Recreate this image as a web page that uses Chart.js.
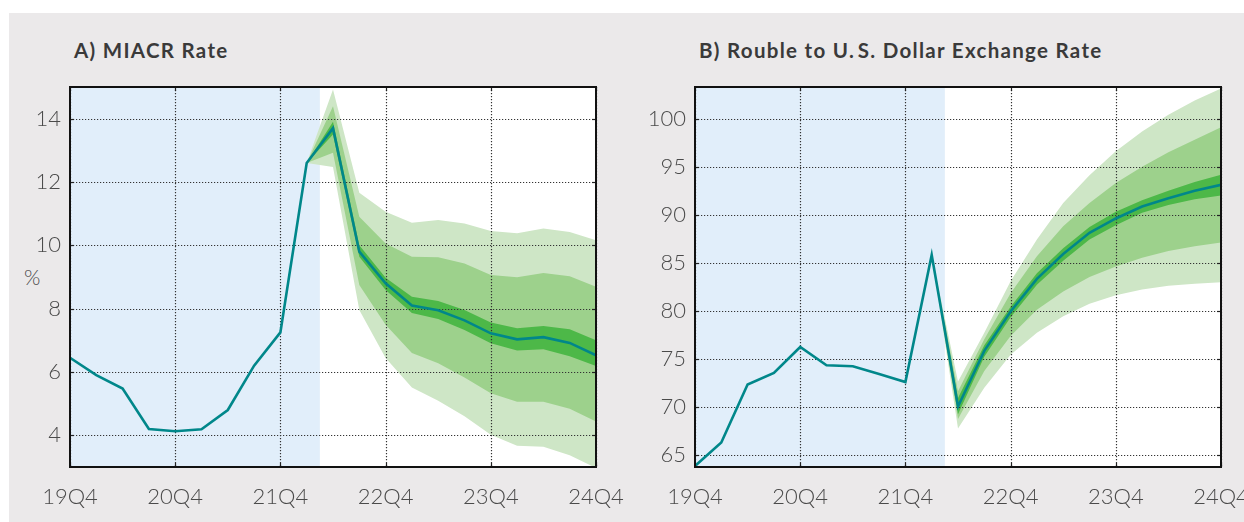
<!DOCTYPE html>
<html>
<head>
<meta charset="utf-8">
<script src="https://cdn.jsdelivr.net/npm/chart.js@4.4.1/dist/chart.umd.min.js"></script>
<style>
body { margin: 0; background: #fff; font-family: Lato, "Open Sans", sans-serif; }
#bg { position: absolute; left: 9px; top: 13px; width: 1235px; height: 509px; background: #ebe9ea; }
.title { position: absolute; top: 38px; font-size: 20.5px; font-weight: bold; letter-spacing: 1.3px; color: #3a3a3a; }
#pct { position: absolute; left: 24px; top: 264px; font-size: 21px; font-weight: 300; color: #4a4a4a; }
canvas { position: absolute; }
</style>
</head>
<body>
<div id="bg"></div>
<div class="title" style="left:74px">A) MIACR Rate</div>
<div class="title" style="left:699px">B) Rouble to U.&#8202;S. Dollar Exchange Rate</div>
<div id="pct">%</div>
<canvas id="chartA" width="620" height="442" style="left:9px;top:80px"></canvas>
<canvas id="chartB" width="624" height="442" style="left:620px;top:80px"></canvas>
<script>
// quarters on the x axis
var quarters = ['19Q4','20Q1','20Q2','20Q3','20Q4','21Q1','21Q2','21Q3','21Q4','22Q1','22Q2','22Q3',
                '22Q4','23Q1','23Q2','23Q3','23Q4','24Q1','24Q2','24Q3','24Q4'];
var xTickLabels = ['19Q4','20Q4','21Q4','22Q4','23Q4','24Q4'];
var fanStart = '22Q1';     // bands start here
var historyEnd = 9.5;      // shaded history, in quarters from 19Q4

// A) MIACR rate, %
var miacr = [6.45, 5.9, 5.48, 4.2, 4.13, 4.19, 4.8, 6.2, 7.25, 12.6, 13.7, 9.8, 8.8, 8.1, 7.95, 7.63, 7.22, 7.03, 7.1, 6.92, 6.53];
var miacrOuterHi = [12.6, 14.92, 11.66, 11.06, 10.71, 10.8, 10.69, 10.45, 10.38, 10.53, 10.42, 10.16];
var miacrOuterLo = [12.6, 12.47, 7.96, 6.44, 5.51, 5.09, 4.6, 4.02, 3.67, 3.64, 3.37, 2.97];
var miacrMidHi   = [12.6, 14.39, 10.9, 10.06, 9.64, 9.62, 9.43, 9.06, 8.99, 9.13, 9.02, 8.69];
var miacrMidLo   = [12.6, 12.92, 8.75, 7.49, 6.6, 6.28, 5.83, 5.33, 5.06, 5.06, 4.84, 4.44];
var miacrInHi    = [12.6, 13.9, 10.0, 8.98, 8.38, 8.24, 7.96, 7.56, 7.38, 7.45, 7.35, 7.0];
var miacrInLo    = [12.6, 13.5, 9.64, 8.59, 7.86, 7.67, 7.33, 6.91, 6.68, 6.72, 6.5, 6.19];
var yTicksA = [4, 6, 8, 10, 12, 14];

// B) rouble per U.S. dollar
var usdrub = [63.8, 66.25, 72.3, 73.5, 76.2, 74.3, 74.2, 73.4, 72.56, 85.8, 70.0, 75.8, 79.9, 83.3, 85.9, 88.1, 89.6, 90.85, 91.7, 92.5, 93.1];
var usdOuterHi = [85.8, 72.6, 77.7, 83.05, 87.4, 91.2, 94.1, 96.6, 98.65, 100.4, 101.9, 103.15];
var usdOuterLo = [85.8, 67.7, 71.95, 75.4, 77.7, 79.4, 80.7, 81.6, 82.2, 82.6, 82.8, 82.95];
var usdMidHi   = [85.8, 71.6, 77.0, 81.8, 85.65, 88.8, 91.2, 93.3, 95.0, 96.5, 97.8, 99.1];
var usdMidLo   = [85.8, 68.7, 73.7, 77.35, 80.1, 82.0, 83.5, 84.6, 85.5, 86.2, 86.7, 87.1];
var usdInHi    = [85.8, 70.9, 76.4, 80.4, 83.9, 86.5, 88.7, 90.3, 91.5, 92.5, 93.4, 94.15];
var usdInLo    = [85.8, 69.2, 75.2, 79.3, 82.7, 85.2, 87.4, 88.9, 90.2, 91.0, 91.6, 92.0];
var yTicksB = [65, 70, 75, 80, 85, 90, 95, 100];

var lineColor = '#00878a';
var innerColor = '#4db848';
var midColor = '#9dd18c';
var outerColor = '#cee6c6';
var histColor = '#e1eefa';
var tickFont = { family: 'Lato', size: 22, weight: '300' };

function pts(arr, start) {
    return arr.map(function (v, i) { return { x: start + i, y: v }; });
}

// white plot + blue history, dotted grid over the fans, black frame
var panelPlugin = {
    id: 'panel',
    beforeDraw: function (chart) {
        var a = chart.chartArea, ctx = chart.ctx, x = chart.scales.x;
        ctx.save();
        ctx.fillStyle = '#fff';
        ctx.fillRect(a.left, a.top, a.right - a.left, a.bottom - a.top);
        ctx.fillStyle = histColor;
        ctx.fillRect(a.left, a.top, x.getPixelForValue(historyEnd) - a.left, a.bottom - a.top);
        ctx.restore();
    },
    beforeDatasetsDraw: function (chart) {
        var a = chart.chartArea, ctx = chart.ctx, x = chart.scales.x, y = chart.scales.y;
        ctx.save();
        ctx.strokeStyle = '#333';
        ctx.lineWidth = 1.2;
        ctx.setLineDash([1.2, 1.8]);
        y.ticks.forEach(function (t) {
            var py = Math.round(y.getPixelForValue(t.value)) + 0.5;
            ctx.beginPath(); ctx.moveTo(a.left, py); ctx.lineTo(a.right, py); ctx.stroke();
        });
        x.ticks.forEach(function (t) {
            var px = Math.round(x.getPixelForValue(t.value)) + 0.5;
            ctx.beginPath(); ctx.moveTo(px, a.top); ctx.lineTo(px, a.bottom); ctx.stroke();
        });
        ctx.setLineDash([]);
        ctx.strokeStyle = '#222';
        y.ticks.forEach(function (t) {
            var py = Math.round(y.getPixelForValue(t.value)) + 0.5;
            ctx.beginPath(); ctx.moveTo(a.left, py); ctx.lineTo(a.left + 4, py); ctx.stroke();
            ctx.beginPath(); ctx.moveTo(a.right - 4, py); ctx.lineTo(a.right, py); ctx.stroke();
        });
        x.ticks.forEach(function (t) {
            var px = Math.round(x.getPixelForValue(t.value)) + 0.5;
            ctx.beginPath(); ctx.moveTo(px, a.bottom); ctx.lineTo(px, a.bottom - 4); ctx.stroke();
            ctx.beginPath(); ctx.moveTo(px, a.top); ctx.lineTo(px, a.top + 4); ctx.stroke();
        });
        ctx.restore();
    },
    afterDatasetsDraw: function (chart) {
        var a = chart.chartArea, ctx = chart.ctx;
        ctx.save();
        ctx.strokeStyle = '#111';
        ctx.lineWidth = 2;
        ctx.strokeRect(a.left, a.top, a.right - a.left, a.bottom - a.top);
        ctx.restore();
    }
};

function makeChart(id, series, bands, yMin, yMax, yTicks, yAxisWidth, padRight) {
    var s = quarters.indexOf(fanStart);
    var band = function (data, color, fill) {
        return { data: pts(data, s), borderWidth: 0, pointRadius: 0, backgroundColor: color, fill: fill };
    };
    return new Chart(document.getElementById(id), {
        type: 'line',
        data: {
            datasets: [
                { data: pts(series, 0), borderColor: lineColor, borderWidth: 2.6, pointRadius: 0, fill: false },
                band(bands[0], innerColor, '+1'), band(bands[1], innerColor, false),
                band(bands[2], midColor, '+1'), band(bands[3], midColor, false),
                band(bands[4], outerColor, '+1'), band(bands[5], outerColor, false)
            ]
        },
        options: {
            responsive: false,
            animation: false,
            layout: { padding: { top: 7, right: padRight, left: 0, bottom: 0 } },
            plugins: {
                legend: { display: false },
                tooltip: { enabled: false },
                filler: { drawTime: 'beforeDatasetsDraw' }
            },
            scales: {
                x: {
                    type: 'linear', min: 0, max: quarters.length - 1,
                    grid: { display: false, drawTicks: false }, border: { display: false },
                    ticks: {
                        padding: 17, color: '#4a4a4a', font: tickFont,
                        callback: function (v) { return quarters[v]; }
                    },
                    afterBuildTicks: function (sc) {
                        sc.ticks = xTickLabels.map(function (q) { return { value: quarters.indexOf(q) }; });
                    },
                    afterFit: function (sc) { sc.height = 55; sc.paddingLeft = 0; sc.paddingRight = 0; }
                },
                y: {
                    min: yMin, max: yMax,
                    grid: { display: false, drawTicks: false }, border: { display: false },
                    ticks: { padding: 9, color: '#4a4a4a', font: tickFont },
                    afterBuildTicks: function (sc) {
                        sc.ticks = yTicks.map(function (v) { return { value: v }; });
                    },
                    afterFit: function (sc) { sc.width = yAxisWidth; sc.paddingTop = 0; sc.paddingBottom = 0; }
                }
            }
        },
        plugins: [panelPlugin]
    });
}

makeChart('chartA', miacr, [miacrInHi, miacrInLo, miacrMidHi, miacrMidLo, miacrOuterHi, miacrOuterLo], 3, 15, yTicksA, 61, 33);
makeChart('chartB', usdrub, [usdInHi, usdInLo, usdMidHi, usdMidLo, usdOuterHi, usdOuterLo], 63.7, 103.3, yTicksB, 75, 23);
</script>
</body>
</html>
